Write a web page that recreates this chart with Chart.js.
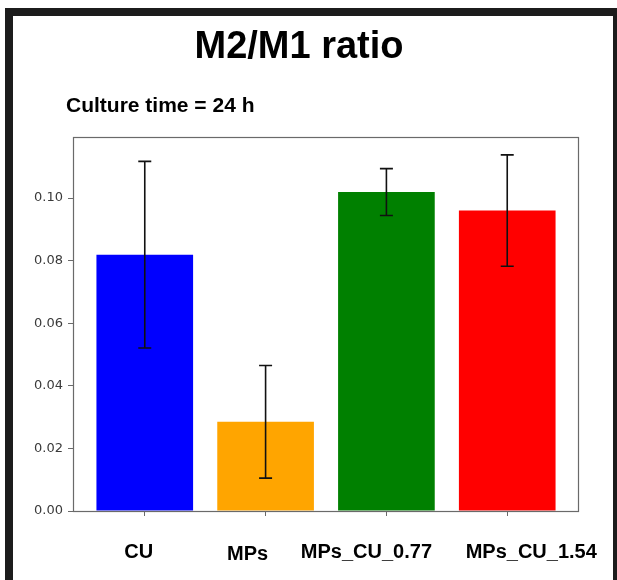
<!DOCTYPE html>
<html>
<head>
<meta charset="utf-8">
<script src="https://cdn.jsdelivr.net/npm/chart.js@4.4.0/dist/chart.umd.min.js"></script>
<style>
  html, body { margin: 0; padding: 0; background: #fff; overflow: hidden; }
  #frame { position: absolute; left: 5px; top: 8px; width: 600px; height: 700px; border: 8px solid #1c1c1c; }
  #wrap { position: absolute; left: 0; top: 0; width: 617px; height: 580px; }
</style>
</head>
<body>
<div id="frame"></div>
<div id="wrap"><canvas id="ratioChart" width="617" height="580"></canvas></div>
<script>
const categories = ["CU", "MPs", "MPs_CU_0.77", "MPs_CU_1.54"];
const ratioValues = [0.0819, 0.0285, 0.1019, 0.0960];
const ratioErrors = [0.0298, 0.0180, 0.0075, 0.0178];
const barColors = ["#0000ff", "#ffa500", "#008000", "#ff0000"];
const yTicks = [0, 0.02, 0.04, 0.06, 0.08, 0.10];

// the category labels in the figure were placed by hand, a bit off the ticks
const labelShift = [-6, -18, -20, 24];
const labelDrop = [0, 2, 0, 0];

const boxPlugin = {
  id: "boxPlugin",
  afterDatasetsDraw(chart) {
    const { ctx, chartArea } = chart;
    const x = chart.scales.x;
    const y = chart.scales.y;

    // error bars
    ctx.save();
    ctx.strokeStyle = "#111";
    ctx.lineWidth = 1.6;
    ratioValues.forEach((v, i) => {
      const px = x.getPixelForValue(i);
      const top = y.getPixelForValue(v + ratioErrors[i]);
      const bot = y.getPixelForValue(v - ratioErrors[i]);
      ctx.beginPath();
      ctx.moveTo(px, top);
      ctx.lineTo(px, bot);
      ctx.moveTo(px - 6.5, top);
      ctx.lineTo(px + 6.5, top);
      ctx.moveTo(px - 6.5, bot);
      ctx.lineTo(px + 6.5, bot);
      ctx.stroke();
    });
    ctx.restore();

    // axes frame
    ctx.save();
    ctx.strokeStyle = "#6a6a6a";
    ctx.lineWidth = 1.2;
    ctx.strokeRect(chartArea.left + 0.5, chartArea.top + 0.5,
      chartArea.right - chartArea.left - 1, chartArea.bottom - chartArea.top);
    ctx.restore();
  },
  afterDraw(chart) {
    const { ctx } = chart;
    const x = chart.scales.x;
    ctx.save();
    ctx.fillStyle = "#000";
    ctx.textBaseline = "alphabetic";
    ctx.font = "bold 21px 'Liberation Sans', Arial, sans-serif";
    ctx.textAlign = "left";
    ctx.fillText("Culture time = 24 h", 66, 112);

    ctx.font = "bold 20px 'Liberation Sans', Arial, sans-serif";
    ctx.textAlign = "center";
    categories.forEach((c, i) => {
      ctx.fillText(c, x.getPixelForValue(i) + labelShift[i], 558 + labelDrop[i]);
    });
    ctx.restore();
  }
};

new Chart(document.getElementById("ratioChart"), {
  type: "bar",
  data: {
    datasets: [
      {
        label: "M2/M1 ratio",
        data: ratioValues.map((v, i) => ({ x: i, y: v })),
        backgroundColor: barColors,
        borderWidth: 0,
        barPercentage: 0.8,
        categoryPercentage: 1.0,
      },
    ],
  },
  options: {
    responsive: false,
    animation: false,
    layout: { padding: { left: 19, right: 38, top: 0, bottom: 0 } },
    plugins: {
      legend: { display: false },
      tooltip: { enabled: false },
      title: {
        display: true,
        text: "M2/M1 ratio",
        color: "#000",
        font: { family: "'Liberation Sans', Arial, sans-serif", size: 38, weight: "bold" },
        padding: { top: 25, bottom: 66.4 },
      },
    },
    scales: {
      x: {
        type: "linear",
        offset: false,
        min: -0.594,
        max: 3.594,
        afterBuildTicks: (s) => { s.ticks = categories.map((c, i) => ({ value: i })); },
        afterFit: (s) => { s.height = 69; },
        ticks: { display: false },
        grid: { offset: false, drawOnChartArea: false, drawTicks: true, tickLength: 5, color: "#6a6a6a" },
        border: { display: false },
      },
      y: {
        min: 0,
        max: 0.1195,
        afterBuildTicks: (s) => { s.ticks = yTicks.map((v) => ({ value: v })); },
        afterFit: (s) => { s.width = 54; },
        ticks: {
          callback: (v) => v.toFixed(2),
          color: "#3a3a3a",
          padding: 5,
          font: { family: "'DejaVu Sans', sans-serif", size: 13 },
        },
        grid: { drawOnChartArea: false, drawTicks: true, tickLength: 5, color: "#6a6a6a" },
        border: { display: false },
      },
    },
  },
  plugins: [boxPlugin],
});
</script>
</body>
</html>
